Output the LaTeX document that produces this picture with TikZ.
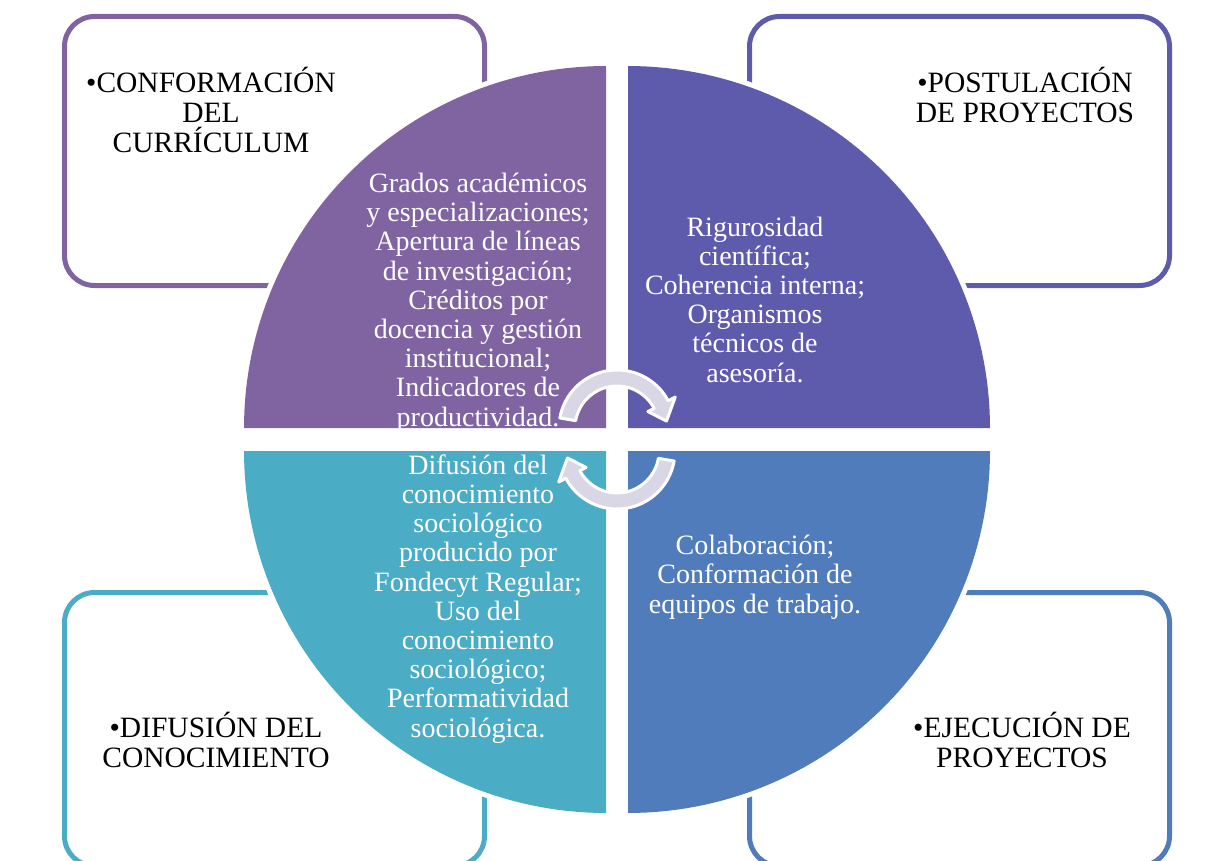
\documentclass[tikz,border=0pt]{standalone}
\usepackage{fontspec}
\setmainfont{Liberation Serif}
\definecolor{cpurple}{HTML}{8064A2}
\definecolor{cviolet}{HTML}{5F5BAC}
\definecolor{caqua}{HTML}{4BACC6}
\definecolor{cblue}{HTML}{507CBB}
\definecolor{carrow}{HTML}{D9D6E5}
\begin{document}
\begin{tikzpicture}[x=1pt,y=-1pt,
  boxline/.style={line width=5pt, rounded corners=30pt},
  lbl/.style={align=center, font=\fontsize{29.5}{30}\selectfont, anchor=base, inner sep=0pt},
  wlbl/.style={align=center, font=\fontsize{28}{29.2}\selectfont, anchor=base, inner sep=0pt, text=white},
  halo/.style={draw=white, line width=10pt, line join=round},
  cyc/.style={fill=carrow, draw=white, line width=3pt, line join=round}]
\useasboundingbox (0,0) rectangle (1215,861);
\clip (0,0) rectangle (1215,861);
% outer boxes
\draw[boxline, draw=cpurple] (64.5,16.5) rectangle (484.5,285.5);
\draw[boxline, draw=cviolet] (749.5,16.5) rectangle (1169.5,285.5);
\draw[boxline, draw=caqua] (64.5,592.5) rectangle (484.5,866);
\draw[boxline, draw=cblue] (749.5,592.5) rectangle (1169.5,866);
% quadrant halos
\draw[halo] (606,428) -- plot[domain=180:270,samples=60] ({606+362*cos(\x)},{428+362*sin(\x)}) -- cycle;
\draw[halo] (628,428) -- plot[domain=270:360,samples=60] ({628+362*cos(\x)},{428+362*sin(\x)}) -- cycle;
\draw[halo] (628,451) -- plot[domain=0:90,samples=60] ({628+362*cos(\x)},{451+362*sin(\x)}) -- cycle;
\draw[halo] (606,451) -- plot[domain=90:180,samples=60] ({606+362*cos(\x)},{451+362*sin(\x)}) -- cycle;
% quadrants
\fill[cpurple] (606,428) -- plot[domain=180:270,samples=60] ({606+362*cos(\x)},{428+362*sin(\x)}) -- cycle;
\fill[cviolet] (628,428) -- plot[domain=270:360,samples=60] ({628+362*cos(\x)},{428+362*sin(\x)}) -- cycle;
\fill[cblue] (628,451) -- plot[domain=0:90,samples=60] ({628+362*cos(\x)},{451+362*sin(\x)}) -- cycle;
\fill[caqua] (606,451) -- plot[domain=90:180,samples=60] ({606+362*cos(\x)},{451+362*sin(\x)}) -- cycle;
% box labels (anchored at the baseline of the last line)
\node[lbl] (lab1) at (211,153) {•CONFORMACIÓN\\DEL\\CURRÍCULUM};
\node[lbl] (lab2) at (1025,123) {•POSTULACIÓN\\DE PROYECTOS};
\node[lbl] (lab3) at (216,767) {•DIFUSIÓN DEL\\CONOCIMIENTO};
\node[lbl] (lab4) at (1022,767) {•EJECUCIÓN DE\\PROYECTOS};
% quadrant texts
\node[wlbl] (q1) at (478,426) {Grados académicos\\y especializaciones;\\Apertura de líneas\\de investigación;\\Créditos por\\docencia y gestión\\institucional;\\Indicadores de\\productividad.};
\node[wlbl] (q2) at (755,382) {Rigurosidad\\científica;\\Coherencia interna;\\Organismos\\técnicos de\\asesoría.};
\node[wlbl] (q3) at (478,737) {Difusión del\\conocimiento\\sociológico\\producido por\\Fondecyt Regular;\\Uso del\\conocimiento\\sociológico;\\Performatividad\\sociológica.};
\node[wlbl] (q4) at (755,613) {Colaboración;\\Conformación de\\equipos de trabajo.};
% cycle arrows
\draw[cyc] plot[domain=190:332,samples=40] ({617+58*cos(\x)},{428+58*sin(\x)})
  -- ({617+66*cos(332)},{428+66*sin(332)})
  -- ({617+50*cos(352)},{428+50*sin(352)})
  -- ({617+35*cos(332)},{428+35*sin(332)})
  -- plot[domain=332:190,samples=40] ({617+42*cos(\x)},{428+42*sin(\x)}) -- cycle;
\draw[cyc] plot[domain=10:152,samples=40] ({617+58*cos(\x)},{451+58*sin(\x)})
  -- ({617+66*cos(152)},{451+66*sin(152)})
  -- ({617+50*cos(172)},{451+50*sin(172)})
  -- ({617+35*cos(152)},{451+35*sin(152)})
  -- plot[domain=152:10,samples=40] ({617+42*cos(\x)},{451+42*sin(\x)}) -- cycle;
\end{tikzpicture}
\end{document}
